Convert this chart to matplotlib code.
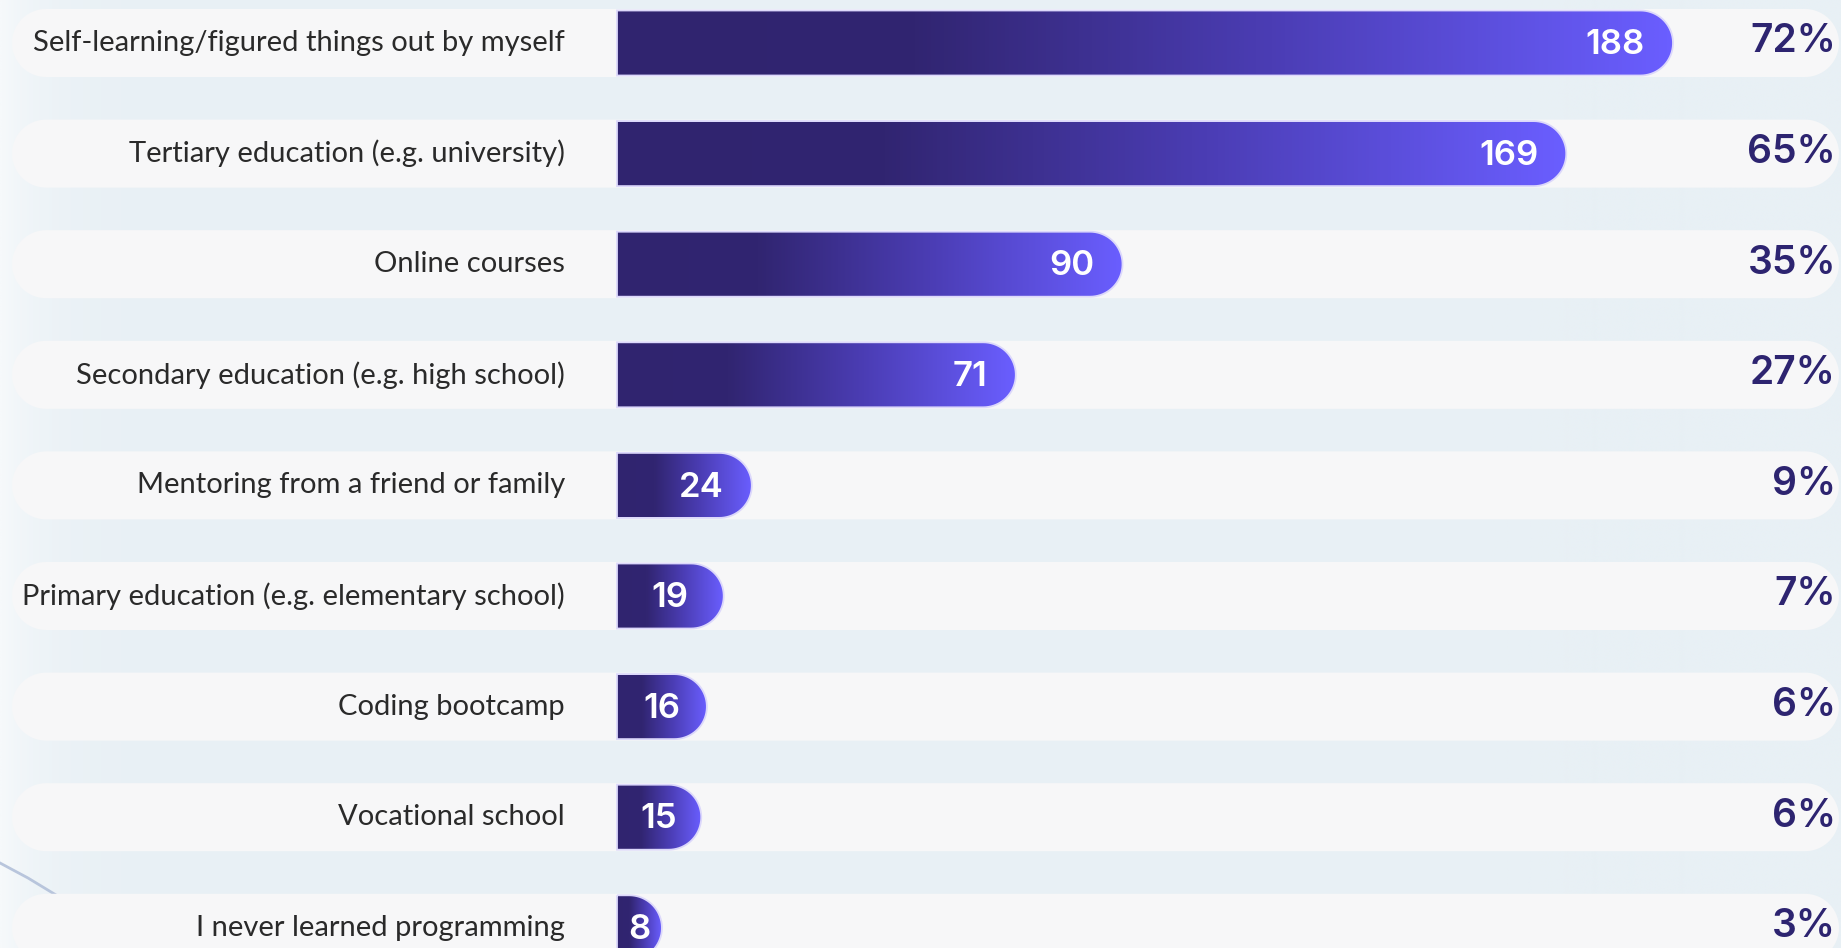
import numpy as np
import matplotlib.pyplot as plt
from matplotlib.colors import LinearSegmentedColormap, to_rgb
from matplotlib.path import Path
from matplotlib.patches import PathPatch
from matplotlib.lines import Line2D

categories = [
    "Self-learning/figured things out by myself",
    "Tertiary education (e.g. university)",
    "Online courses",
    "Secondary education (e.g. high school)",
    "Mentoring from a friend or family",
    "Primary education (e.g. elementary school)",
    "Coding bootcamp",
    "Vocational school",
    "I never learned programming",
]
counts = [188, 169, 90, 71, 24, 19, 16, 15, 8]
percents = [72, 65, 35, 27, 9, 7, 6, 6, 3]

W, H, DPI = 1841, 948, 100
BAR_X0 = 617          # pixel where the bars start
BAR_MAX_X = 1673      # pixel where the longest bar ends
ROW0 = 43             # pixel centre of first row
PITCH = 110.6         # pixels between rows
ppu = (BAR_MAX_X - BAR_X0) / max(counts)   # pixels per count

DARK = "#30246f"
LIGHT = "#6a5eff"
bar_cmap = LinearSegmentedColormap.from_list(
    "bars", [(0, DARK), (0.28, "#312571"), (0.62, "#4b3db4"), (1, LIGHT)])

fig = plt.figure(figsize=(W / DPI, H / DPI), dpi=DPI)

# soft background, a bit whiter at the left edge
bg = fig.add_axes([0, 0, 1, 1])
bg.set_axis_off()
xs = np.linspace(0, 1, 400)
base = np.array(to_rgb("#e8f0f5"))
edge = np.array(to_rgb("#f6f9fb"))
w = np.exp(-xs * W / 45.0)[None, :, None]
img = np.repeat((edge * w + base * (1 - w)), 20, axis=0)
bg.imshow(img, extent=[0, W, H, 0], aspect="auto", interpolation="bilinear")
bg.add_line(Line2D([0, 28, 56], [863, 878, 895], color="#b8c5dc", lw=2))
bg.set_xlim(0, W)
bg.set_ylim(H, 0)

ax = fig.add_axes([0, 0, 1, 1])
ax.set_axis_off()
ax.patch.set_alpha(0)


def px_x(p):
    return (p - BAR_X0) / ppu


def pill(x0, x1, yc, hh, rx, ry, round_left=False):
    t = np.linspace(-np.pi / 2, np.pi / 2, 40)
    right = np.column_stack([x1 - rx + rx * np.cos(t), yc + ry * np.sin(t)])
    if round_left:
        left = np.column_stack([x0 + rx - rx * np.cos(t), yc - ry * np.sin(t)])
    else:
        left = np.array([[x0, yc + hh], [x0, yc - hh]])
    verts = np.vstack([[x0 + (rx if round_left else 0), yc - hh], right, left])
    verts = np.vstack([verts, verts[:1]])
    codes = [Path.MOVETO] + [Path.LINETO] * (len(verts) - 2) + [Path.CLOSEPOLY]
    return Path(verts, codes)


band_hh = 34 / PITCH
bar_hh = 32.5 / PITCH
grad = np.linspace(0, 1, 256).reshape(1, -1)
num_font = ["Inter", "DejaVu Sans"]

for i, (cat, n, pct) in enumerate(zip(categories, counts, percents)):
    # light row band
    band = PathPatch(pill(px_x(12), px_x(1839), i, band_hh, 34 / ppu, band_hh, round_left=True),
                     facecolor="#f7f7f8", edgecolor="none", zorder=1)
    ax.add_patch(band)

    # gradient bar with rounded end
    path = pill(0, n, i, bar_hh, 32.5 / ppu, bar_hh)
    clip = PathPatch(path, facecolor="none", edgecolor="none")
    ax.add_patch(clip)
    im = ax.imshow(grad, cmap=bar_cmap, extent=[0, n, i + bar_hh, i - bar_hh],
                   aspect="auto", interpolation="bicubic", zorder=2)
    im.set_clip_path(clip)
    ax.add_patch(PathPatch(path, facecolor="none", edgecolor="#dcd8fb", lw=1.3, zorder=3))

    ax.text(px_x(565), i, cat, ha="right", va="center", fontsize=21,
            family=["Lato", "DejaVu Sans"], color="#2a2a2a", zorder=4)

    if n * ppu > 130:
        ax.text(n - 28 / ppu, i + 0.02, str(n), ha="right", va="center", fontsize=25,
                family=num_font, weight="semibold", color="white", zorder=4)
    else:
        ax.text(n / 2, i + 0.02, str(n), ha="center", va="center", fontsize=25,
                family=num_font, weight="semibold", color="white", zorder=4)

    ax.text(px_x(1836), i - 0.01, f"{pct}%", ha="right", va="center", fontsize=28,
            family=num_font, weight="semibold", color="#2d2470", zorder=4)

ax.set_xlim(px_x(0), px_x(W))
ax.set_ylim((H - ROW0) / PITCH, -ROW0 / PITCH)

fig.savefig("out.png", dpi=DPI)
